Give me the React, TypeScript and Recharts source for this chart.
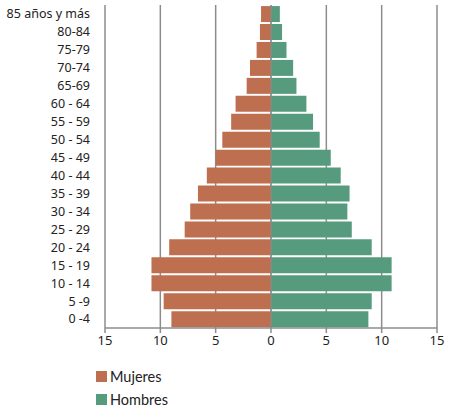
import React from "react";
import { BarChart, Bar, XAxis, YAxis, CartesianGrid, Legend, ReferenceLine } from "recharts";

const ageGroups = [
  "85 años y más", "80-84", "75-79", "70-74", "65-69", "60 - 64", "55 - 59", "50 - 54",
  "45 - 49", "40 - 44", "35 - 39", "30 - 34", "25 - 29", "20 - 24", "15 - 19", "10 - 14", "5 -9", "0 -4",
];
const mujeres = [0.9, 1.0, 1.3, 1.9, 2.2, 3.2, 3.6, 4.4, 5.0, 5.8, 6.6, 7.3, 7.8, 9.2, 10.8, 10.8, 9.7, 9.0];
const hombres = [0.8, 1.0, 1.4, 2.0, 2.3, 3.2, 3.8, 4.4, 5.4, 6.3, 7.1, 6.9, 7.3, 9.1, 10.9, 10.9, 9.1, 8.8];
const xTicks = [-15, -10, -5, 0, 5, 10, 15];
const seriesNames = ["Mujeres", "Hombres"];

const data = ageGroups.map((age, i) => ({ age, Mujeres: -mujeres[i], Hombres: hombres[i] }));

const COLORS: Record<string, string> = { Mujeres: "#BE6F50", Hombres: "#569B7E" };
const GRID = "#8c8c8c";

const renderLegend = () => {
  return (
    <div style={{ display: "flex", flexDirection: "column", paddingLeft: 96, paddingTop: 9 }}>
      {seriesNames.map((name) => (
        <div key={name} style={{ display: "flex", alignItems: "center", height: 23 }}>
          <div style={{ width: 11, height: 11, background: COLORS[name], marginRight: 3 }} />
          <span style={{ fontFamily: "Lato", fontSize: 14.5, lineHeight: "16px", color: "#222" }}>{name}</span>
        </div>
      ))}
    </div>
  );
};

export default function App() {
  return (
    <div style={{ position: "absolute", left: 0, top: 0 }}>
      <BarChart
        width={453}
        height={409}
        data={data}
        layout="vertical"
        stackOffset="sign"
        barCategoryGap="6%"
        margin={{ top: 5, right: 16, bottom: 0, left: 0 }}
      >
        <CartesianGrid horizontal={false} stroke={GRID} strokeWidth={1.5} />
        <XAxis
          type="number"
          domain={[-15, 15]}
          ticks={xTicks}
          tickFormatter={(v: number) => String(Math.abs(v))}
          stroke={GRID}
          strokeWidth={1.5}
          tickSize={5}
          tickMargin={3}
          height={28}
          tick={{ fill: "#222", fontFamily: "Noto Sans", fontSize: 13 }}
          interval={0}
        />
        <YAxis
          type="category"
          dataKey="age"
          width={105}
          axisLine={false}
          tickLine={false}
          tickSize={6}
          tickMargin={9}
          interval={0}
          tick={{ fill: "#222", fontFamily: "Noto Sans", fontSize: 12.5 }}
        />
        <Bar dataKey="Mujeres" stackId="a" fill={COLORS.Mujeres} isAnimationActive={false} />
        <Bar dataKey="Hombres" stackId="a" fill={COLORS.Hombres} isAnimationActive={false} />
        <ReferenceLine x={0} stroke={GRID} strokeWidth={1} />
        <Legend
          verticalAlign="bottom"
          align="left"
          layout="horizontal"
          content={renderLegend}
          wrapperStyle={{ height: 53, width: 453 }}
        />
      </BarChart>
    </div>
  );
}
